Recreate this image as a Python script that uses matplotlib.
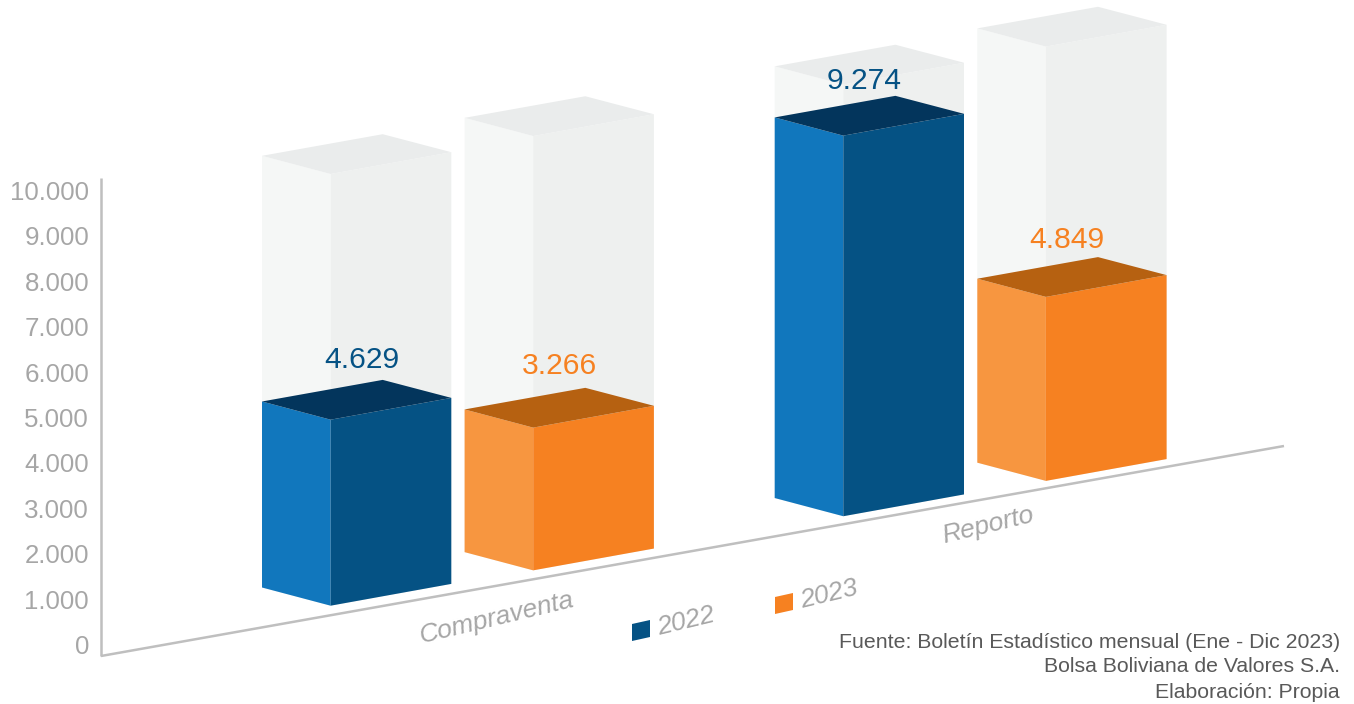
import matplotlib
matplotlib.use('Agg')
import matplotlib.pyplot as plt
from matplotlib.patches import Polygon

plt.rcParams['font.family'] = ['Liberation Sans', 'DejaVu Sans']

years = ['2022', '2023']
categories = ['Compraventa', 'Reporto']
tick_values = [0, 1000, 2000, 3000, 4000, 5000, 6000, 7000, 8000, 9000, 10000]
labels_2022 = ['4.629', '9.274']
labels_2023 = ['3.266', '4.849']
# heights as drawn in the picture (the 3D bars do not follow the labels exactly)
heights_2022 = [4296, 8790]
heights_2023 = [3296, 4249]
ghost_heights = [9970, 10030]

FONT_TICK = 18.6
FONT_LABEL = 21.6
BLUE = ('#1177bd', '#055284', '#03355c')
ORANGE = ('#f79640', '#f68121', '#b66111')
GHOST = ('#f5f7f6', '#eef0ef', '#eaecec')

PX_PER_VALUE = 433 / 10000
CAT_STEP = 512.7
SER_STEP = 202.6
SLOPE = -0.1745

fig = plt.figure(figsize=(13.54, 7.04), dpi=100)
ax = fig.add_axes([0, 0, 1, 1])
ax.set_xlim(0, 1354)
ax.set_ylim(704, 0)
ax.axis('off')


def corners(cat, ser):
    # left/front/right/back corners of the floor of a bar
    dx = cat * CAT_STEP + ser * SER_STEP
    x = 262 + dx
    y = 587.5 + SLOPE * dx
    return [(x, y), (x + 68.6, y + 18.2), (x + 189.3, y - 3.6), (x + 120.7, y - 21.6)]


def draw_box(cat, ser, height, colors, z):
    c = corners(cat, ser)
    h = height * PX_PER_VALUE
    top = [(px, py - h) for px, py in c]
    ax.add_patch(Polygon([c[0], c[1], top[1], top[0]], fc=colors[0], ec='none', zorder=z))
    ax.add_patch(Polygon([c[1], c[2], top[2], top[1]], fc=colors[1], ec='none', zorder=z))
    ax.add_patch(Polygon(top, fc=colors[2], ec='none', zorder=z))
    return top


# axis lines
ax.plot([101, 101], [178, 656], color='#bfbfbf', lw=1.8, solid_capstyle='butt', zorder=1)
ax.plot([101, 1284], [656, 446], color='#bfbfbf', lw=1.8, solid_capstyle='butt', zorder=1)

for v in tick_values:
    s = f'{v:,}'.replace(',', '.')
    ax.text(89, 647 - v * 0.0454, s, ha='right', va='center', fontsize=FONT_TICK, color='#a6a6a6')

label_dx = [[100, 89], [95, 90]]
label_dy = [[-20, -15], [-22, -17]]
series = [(heights_2022, labels_2022, BLUE, '#055284'), (heights_2023, labels_2023, ORANGE, '#f68121')]
for ser, (heights, texts, cols, tcol) in enumerate(series):
    for cat, (h, txt) in enumerate(zip(heights, texts)):
        z = 2 + cat * 2 + ser
        draw_box(cat, ser, ghost_heights[ser], GHOST, z)
        top = draw_box(cat, ser, h, cols, z + 0.5)
        ax.text(top[0][0] + label_dx[ser][cat], top[3][1] + label_dy[ser][cat], txt, ha='center', va='center',
                fontsize=FONT_LABEL, color=tcol, zorder=10)

# category labels, slanted along the floor
cat_pos = [(497, 618), (988, 525)]
for (x, y), name in zip(cat_pos, categories):
    ax.text(x, y, name, rotation=13.5, rotation_mode='anchor', ha='center', va='center', style='italic',
            fontsize=19, color='#a6a6a6')

# legend
leg_pos = [(632, 624), (775, 597)]
for (x, y), name, cols in zip(leg_pos, years, (BLUE, ORANGE)):
    ax.add_patch(Polygon([(x, y), (x + 18, y - 4), (x + 18, y + 13), (x, y + 17)], fc=cols[1], ec='none'))
    ax.text(x + 53.5, y - 3, name, rotation=13.5, rotation_mode='anchor', ha='center', va='center', style='italic',
            fontsize=19, color='#a6a6a6')

footer = ['Fuente: Boletín Estadístico mensual (Ene - Dic 2023)', 'Bolsa Boliviana de Valores S.A.', 'Elaboración: Propia']
for y, line in zip([643, 667, 692], footer):
    ax.text(1340, y, line, ha='right', va='center', fontsize=15.3, color='#595959')

fig.savefig('out.png', dpi=100)
